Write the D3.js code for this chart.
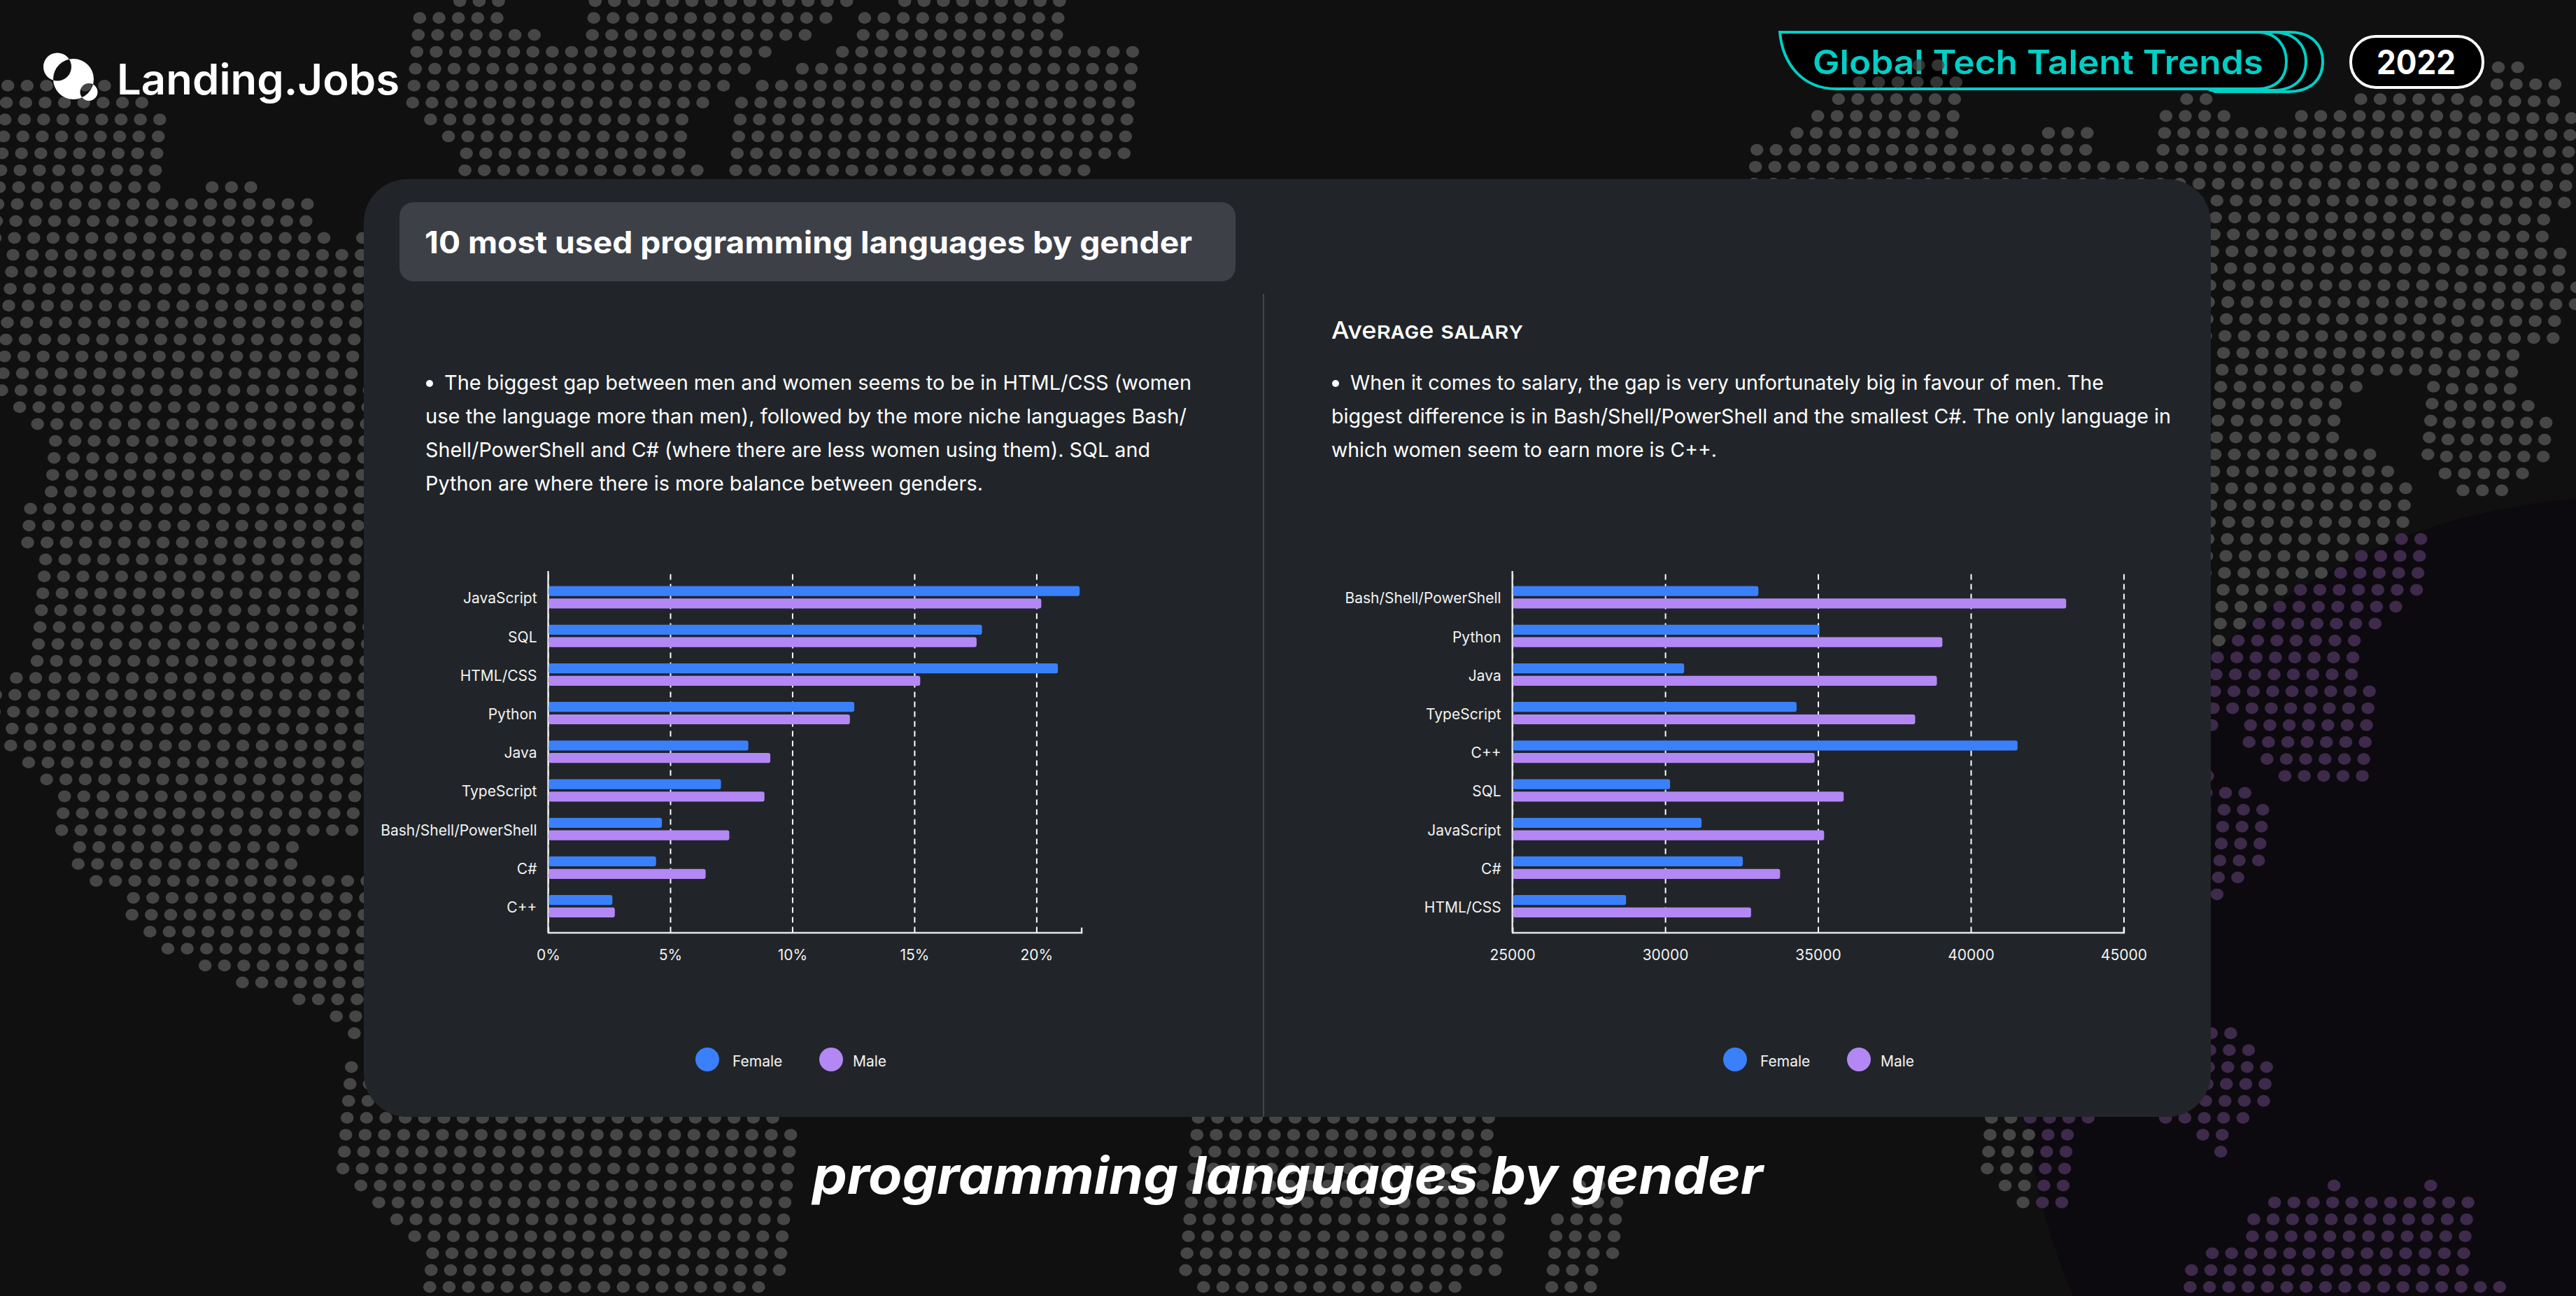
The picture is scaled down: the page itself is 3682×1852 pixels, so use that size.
<!DOCTYPE html>
<html>
<head>
<meta charset="utf-8">
<title>programming languages by gender</title>
<script src="https://cdn.jsdelivr.net/npm/d3@7"></script>
<style>
  html, body { margin: 0; padding: 0; background: #101010; overflow: hidden; }
  svg { display: block; }
  text { font-family: Inter, "Noto Sans", sans-serif; fill: #fff; }
  .tick text { font-size: 21px; fill: #f2f2f2; }
</style>
</head>
<body>
<svg id="chart" width="3682" height="1852"></svg>
<script>
// Chart data
const usageLanguages = ['JavaScript', 'SQL', 'HTML/CSS', 'Python', 'Java', 'TypeScript', 'Bash/Shell/PowerShell', 'C#', 'C++'];
const usageFemale = [21.77, 17.77, 20.88, 12.54, 8.2, 7.08, 4.66, 4.42, 2.63];
const usageMale = [20.2, 17.55, 15.24, 12.36, 9.1, 8.86, 7.42, 6.45, 2.73];
const usageTicks = [0, 5, 10, 15, 20];

const salaryLanguages = ['Bash/Shell/PowerShell', 'Python', 'Java', 'TypeScript', 'C++', 'SQL', 'JavaScript', 'C#', 'HTML/CSS'];
const salaryFemale = [33050, 35050, 30620, 34300, 41530, 30160, 31190, 32540, 28720];
const salaryMale = [43120, 39070, 38890, 38180, 34890, 35840, 35200, 33760, 32810];
const salaryTicks = [25000, 30000, 35000, 40000, 45000];

const seriesNames = ['Female', 'Male'];
const seriesColors = ['#3a80fb', '#b388f5'];

// Text blocks
const headerLeft = '10 most used programming languages by gender';
const usageText = [
  'The biggest gap between men and women seems to be in HTML/CSS (women',
  'use the language more than men), followed by the more niche languages Bash/',
  'Shell/PowerShell and C# (where there are less women using them). SQL and',
  'Python are where there is more balance between genders.'
];
const salaryTitle = 'Average salary';
const salaryText = [
  'When it comes to salary, the gap is very unfortunately big in favour of men. The',
  'biggest difference is in Bash/Shell/PowerShell and the smallest C#. The only language in',
  'which women seem to earn more is C++.'
];

// Background dot map, in grid units: [row, firstColumn, lastColumn]
const mapRuns = [
  [0,22,24],[0,29,42],[0,45,53],[1,20,24],[1,29,41],[1,43,53],[2,20,26],[2,29,40],[2,43,53],
  [3,20,38],[3,42,57],[4,20,37],[4,40,57],[5,-1,4],[5,20,36],[5,38,57],[6,-1,6],[6,20,35],[6,37,57],
  [7,-1,7],[7,21,34],[7,37,57],[8,-1,7],[8,22,34],[8,37,57],[9,-1,7],[9,23,34],[9,37,57],
  [10,-1,7],[10,23,35],[10,37,55],[11,-1,7],[11,10,12],[12,-1,15],[13,-1,15],[14,-1,16],[14,18,19],
  [15,0,20],[16,0,21],[17,0,21],[18,0,21],[19,0,21],[20,0,21],[21,0,21],[22,0,21],[23,0,21],
  [24,1,21],[25,2,21],[26,3,21],[27,3,21],[28,3,21],[29,3,21],[30,2,21],[31,2,21],[32,2,21],
  [33,3,21],[34,3,21],[35,3,21],[36,3,21],[37,3,21],[38,3,21],[39,3,21],[40,2,21],[41,1,21],
  [42,1,21],[43,1,21],[44,2,21],[45,3,21],[46,4,22],[47,5,22],[48,5,22],[49,5,22],[50,6,17],
  [51,6,17],[52,7,22],[53,9,22],[54,9,22],[55,10,22],[56,11,23],[57,13,23],[58,15,23],[59,18,23],
  [60,20,23],[61,21,24],[63,21,21],[64,21,23],[65,21,23],
  [66,21,43],[66,65,80],[66,106,111],[66,115,119],[67,21,44],[67,65,80],[67,106,110],[67,117,118],
  [68,21,44],[68,65,80],[68,106,110],[68,118,118],[69,21,44],[69,65,80],[69,106,110],
  [70,22,44],[70,65,80],[70,85,86],[70,107,110],[70,124,124],[70,129,129],
  [71,23,44],[71,65,81],[71,85,87],[71,108,110],[71,121,131],[72,24,44],[72,65,81],[72,84,87],[72,120,131],
  [73,25,44],[73,65,81],[73,84,87],[73,120,131],[74,26,44],[74,65,81],[74,84,87],[74,118,131],
  [75,26,44],[75,65,81],[75,84,86],[75,117,131],[76,26,43],[76,66,79],[76,84,86],[76,117,133],
  [61,115,118],[62,115,119],[63,115,120],[64,115,120],[65,115,120]
];
const mapRunsEast = [
  [6,94,100],[6,112,113],[6,121,126],[7,93,100],[7,111,114],[7,118,126],[8,92,100],[8,105,107],[8,111,126],
  [9,90,107],[9,111,126],[10,90,126],[11,90,126],[12,108,126],[13,108,126],[14,108,126],[15,108,126],
  [16,108,126],[17,108,126],[18,108,126],[19,108,126],[20,108,126],[21,108,126],[22,108,126],
  [23,108,122],[23,126,126],[24,108,121],[24,126,126],[25,108,121],[25,126,126],[26,108,121],[26,126,126],
  [27,108,123],[27,126,126],[28,108,124],[29,108,125],[30,108,125],[31,108,125],[32,108,126],[33,108,126],
  [34,108,126],[35,108,126],[36,108,125],[37,108,124],[38,108,123],[39,108,123],[40,108,123],[41,108,124],
  [42,108,124],[43,108,116],[43,118,124],[44,118,124],[45,119,124],[46,116,116],[46,120,124],[47,116,118],
  [48,115,119],[49,115,119],[50,115,119],[51,115,119],[52,115,118],[53,115,117]
];
const mapRunsFarEast = [
  [4,128,129],[5,128,131],[6,127,131],[7,127,132],[8,127,132],[9,127,132],[10,127,132],[11,127,132],[12,127,132],
  [13,127,131],[14,127,131],[15,127,132],[16,127,132],[17,127,133],[18,127,133],[19,127,132],[20,127,132],
  [21,127,130],[22,127,130],[23,127,130],[24,127,131],[25,127,132],[26,127,132],[27,127,132],[28,127,131],[29,128,130]
];
// these two rows show through the header badge
const mapRunsOverBadge = [[4,98,99],[5,95,100]];

const svg = d3.select('#chart');

// Background
svg.append('rect').attr('width', 3682).attr('height', 1852).attr('fill', '#101010');
const tint = { cx: 3750, cy: 1530, rx: 855, ry: 820 };
svg.append('ellipse')
  .attr('cx', tint.cx).attr('cy', tint.cy).attr('rx', tint.rx).attr('ry', tint.ry)
  .attr('fill', '#0d0a0f');

function insideTint(x, y) {
  const a = (x - tint.cx) / tint.rx;
  const b = (y - tint.cy) / tint.ry;
  return a * a + b * b < 1;
}

function drawDots(runs, dx, dy, opacity = 1) {
  const dots = [];
  runs.forEach(([row, first, last]) => {
    d3.range(first, last + 1).forEach(col => {
      dots.push({ x: 48.9 + dx + 27.65 * col - 2.02 * row, y: 1.5 + dy + 24.18 * row });
    });
  });
  svg.append('g').attr('opacity', opacity).selectAll('ellipse')
    .data(dots)
    .enter()
    .append('ellipse')
    .attr('cx', d => d.x).attr('cy', d => d.y)
    .attr('rx', 9.3).attr('ry', 8.4)
    .attr('fill', d => insideTint(d.x, d.y) ? '#3e2a4b' : '#464646');
}
drawDots(mapRuns, 0, 0);
drawDots(mapRunsEast, -8, -5);
drawDots(mapRunsFarEast, -9, -2);

// Squeezes or stretches a line so it spans the same width as in the source
function fitText(parent, str, x, baseline, width, size, weight) {
  return parent.append('text')
    .attr('x', x).attr('y', baseline)
    .attr('textLength', width).attr('lengthAdjust', 'spacingAndGlyphs')
    .style('font-size', size + 'px').style('font-weight', weight)
    .text(str);
}

// Logo
const logoPath = d3.path();
[[105, 113, 29], [82, 95.5, 20], [127, 131.5, 12.5]].forEach(([x, y, r]) => {
  logoPath.moveTo(x + r, y);
  logoPath.arc(x, y, r, 0, Math.PI * 2);
});
svg.append('path').attr('d', logoPath.toString()).attr('fill', '#fff').attr('fill-rule', 'evenodd');
fitText(svg, 'Landing.Jobs', 167, 135, 404, 60, 600);

// Header badge
const teal = '#00cfc6';
const badge = svg.append('g').attr('fill', '#000').attr('stroke', teal).attr('stroke-width', 4);
badge.append('path').attr('d', 'M3000,46 H3272 C3305,46 3320,65 3320,88 C3320,111 3305,131 3272,131 H3166 Z');
badge.append('path').attr('d', 'M3000,46 H3248 C3281,46 3296,65 3296,88 C3296,111 3281,129 3248,129 H3160 Z');
badge.append('path').attr('d', 'M2544,46 H3226 C3254,46 3268,65 3268,88 C3268,111 3254,127 3226,127 H2625 C2575,127 2548,90 2544,46 Z');
fitText(svg, 'Global Tech Talent Trends', 2591, 106, 644, 48, 600).style('fill', teal);
drawDots(mapRunsOverBadge, -8, -5, 0.75);
svg.append('rect').attr('x', 3360).attr('y', 52).attr('width', 189).attr('height', 73).attr('rx', 36)
  .attr('fill', '#000').attr('stroke', '#fff').attr('stroke-width', 4);
fitText(svg, '2022', 3397, 106, 113, 48, 700);

// Main panel
svg.append('rect').attr('x', 520).attr('y', 256).attr('width', 2640).attr('height', 1340).attr('rx', 62)
  .attr('fill', '#212529');
svg.append('rect').attr('x', 571).attr('y', 289).attr('width', 1195).attr('height', 113).attr('rx', 20)
  .attr('fill', '#3d4047');
fitText(svg, headerLeft, 607, 362, 1097, 44, 700);
svg.append('line').attr('x1', 1806).attr('x2', 1806).attr('y1', 420).attr('y2', 1596)
  .attr('stroke', '#43474d').attr('stroke-width', 2);

// Commentary
const lineHeight = 48;
const usageWidths = [1068, 1088, 1036, 797];
const salaryWidths = [1077, 1200, 551];
function drawCopy(lines, widths, left, baseline) {
  lines.forEach((line, i) => {
    const x = i === 0 ? left + 27 : left;
    fitText(svg, line, x, baseline + i * lineHeight, widths[i], 29, 400);
  });
  svg.append('circle').attr('cx', left + 6).attr('cy', baseline - 9).attr('r', 5).attr('fill', '#fff');
}
drawCopy(usageText, usageWidths, 608, 557);
fitText(svg, salaryTitle, 1903, 484, 274, 34, 500).style('font-variant', 'small-caps');
drawCopy(salaryText, salaryWidths, 1903, 557);

// Grouped horizontal bars
function drawBars(opts) {
  const { languages, female, male, ticks, format, domain, xRange, legendX } = opts;
  const top = 816;
  const bottom = 1332.6;
  const x = d3.scaleLinear().domain(domain).range(xRange);
  const y = d3.scaleBand().domain(languages).range([top, bottom]).paddingInner(0.42).paddingOuter(0.39);
  const inner = d3.scaleBand().domain(seriesNames).range([0, y.bandwidth()]).paddingInner(0.2);
  const values = { Female: female, Male: male };

  const g = svg.append('g');

  // x axis, ticks double as the dashed grid
  const xAxis = g.append('g')
    .attr('transform', `translate(0,${bottom})`)
    .call(d3.axisBottom(x).tickValues(ticks).tickFormat(format).tickSizeInner(-(bottom - top)).tickSizeOuter(-7).tickPadding(0));
  xAxis.select('.domain').attr('stroke', '#e6e6e6').attr('stroke-width', 2.5).attr('fill', 'none');
  xAxis.selectAll('.tick line')
    .attr('stroke', '#fff').attr('stroke-width', 2).attr('stroke-dasharray', '8 6');
  xAxis.selectAll('.tick text').attr('y', 24).attr('dy', '0.71em');

  const yAxis = g.append('g')
    .attr('transform', `translate(${xRange[0]},0)`)
    .call(d3.axisLeft(y).tickSize(0).tickPadding(16));
  yAxis.select('.domain').attr('stroke', '#e6e6e6').attr('stroke-width', 2.5);
  yAxis.selectAll('.domain').attr('d', `M0,${top}V${bottom}`);
  yAxis.selectAll('.tick text').attr('dy', '0.42em');

  seriesNames.forEach((name, s) => {
    g.append('g').selectAll('rect')
      .data(languages)
      .enter()
      .append('rect')
      .attr('x', xRange[0] + 1)
      .attr('y', d => y(d) + inner(name))
      .attr('width', (d, i) => x(values[name][i]) - xRange[0] - 1)
      .attr('height', inner.bandwidth())
      .attr('rx', 3)
      .attr('fill', seriesColors[s]);
  });

  // Legend
  const legendGap = [36, 31];
  const legend = g.append('g').selectAll('g')
    .data(seriesNames)
    .enter()
    .append('g')
    .attr('transform', (d, i) => `translate(${legendX[i]},1514)`);
  legend.append('circle').attr('r', 17).attr('fill', (d, i) => seriesColors[i]);
  legend.append('text').attr('x', (d, i) => legendGap[i]).attr('y', 10)
    .style('font-size', '21px').style('fill', '#f2f2f2').text(d => d);
}

drawBars({
  languages: usageLanguages, female: usageFemale, male: usageMale,
  ticks: usageTicks, format: d => d + '%',
  domain: [0, 21.84], xRange: [783.5, 1545.6], legendX: [1011, 1188]
});
drawBars({
  languages: salaryLanguages, female: salaryFemale, male: salaryMale,
  ticks: salaryTicks, format: d => String(d),
  domain: [25000, 45000], xRange: [2161.7, 3035.4], legendX: [2480, 2657]
});

// Footer title
fitText(svg, 'programming languages by gender', 1161, 1706, 1359, 74, 700).style('font-style', 'italic');
</script>
</body>
</html>
